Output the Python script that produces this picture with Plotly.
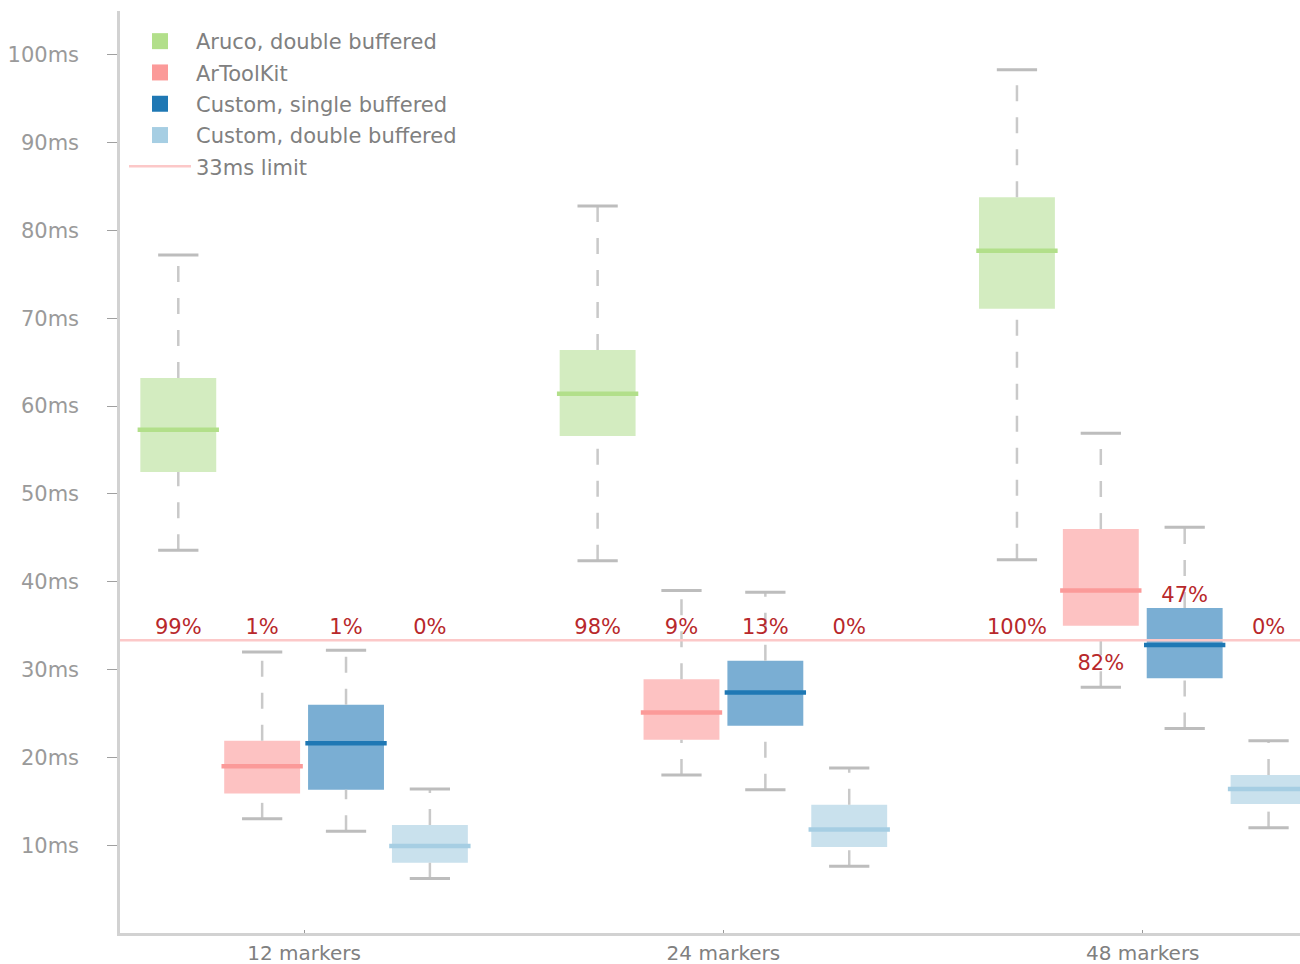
import plotly.graph_objects as go

# Marker-count scenarios (x categories)
groups = ["12 markers", "24 markers", "48 markers"]

series_names = ["Aruco, double buffered", "ArToolKit",
                "Custom, single buffered", "Custom, double buffered"]

# Frame-time statistics in ms, one list per series, ordered like `groups`
aruco_low = [43.6, 42.4, 42.5]
aruco_q1 = [52.5, 56.6, 71.1]
aruco_med = [57.3, 61.4, 77.7]
aruco_q3 = [63.2, 66.4, 83.8]
aruco_high = [77.2, 82.8, 98.3]

artk_low = [13.0, 18.0, 28.0]
artk_q1 = [15.9, 22.0, 35.0]
artk_med = [19.0, 25.1, 39.0]
artk_q3 = [21.9, 28.9, 46.0]
artk_high = [32.0, 39.0, 56.9]

single_low = [11.6, 16.3, 23.3]
single_q1 = [16.3, 23.6, 29.0]
single_med = [21.6, 27.4, 32.8]
single_q3 = [26.0, 31.0, 37.0]
single_high = [32.2, 38.8, 46.2]

double_low = [6.2, 7.6, 12.0]
double_q1 = [8.0, 9.8, 14.7]
double_med = [9.9, 11.8, 16.4]
double_q3 = [12.3, 14.6, 18.0]
double_high = [16.4, 18.8, 21.9]

# Share of frames slower than the limit, per series and group
aruco_over = [99, 98, 100]
artk_over = [1, 9, 82]
single_over = [1, 13, 47]
double_over = [0, 0, 0]

limit_ms = 33.33

y_ticks = [10, 20, 30, 40, 50, 60, 70, 80, 90, 100]
y_tick_text = ["10ms", "20ms", "30ms", "40ms", "50ms",
               "60ms", "70ms", "80ms", "90ms", "100ms"]

series = [
    dict(name=series_names[0], low=aruco_low, q1=aruco_q1, med=aruco_med,
         q3=aruco_q3, high=aruco_high, over=aruco_over,
         line="#b2df8a", fill="#d3ecc0"),
    dict(name=series_names[1], low=artk_low, q1=artk_q1, med=artk_med,
         q3=artk_q3, high=artk_high, over=artk_over,
         line="#fb9a99", fill="#fdc2c2"),
    dict(name=series_names[2], low=single_low, q1=single_q1, med=single_med,
         q3=single_q3, high=single_high, over=single_over,
         line="#1f78b4", fill="#7aaed3"),
    dict(name=series_names[3], low=double_low, q1=double_q1, med=double_med,
         q3=double_q3, high=double_high, over=double_over,
         line="#a6cee3", fill="#c9e1ed"),
]

FONT = "DejaVu Sans"
FS = 21
offsets = [-0.3, -0.1, 0.1, 0.3]
box_w = 0.181
med_half = 0.097
cap_half = 0.048
whisker_color = "#c9c9c9"
cap_color = "#bdbdbd"
label_color = "#b8282b"

fig = go.Figure()


def segs(xc, y0, y1, half=0.0):
    xs, ys = [], []
    for x, a, b in zip(xc, y0, y1):
        xs += [x - half, x + half, None] if half else [x, x, None]
        ys += [a, b, None]
    return xs, ys


label_x, label_y, label_t = [], [], []
for k, s in enumerate(series):
    xc = [g + offsets[k] for g in range(len(groups))]

    # dashed whiskers from the box edges out to the caps
    wx1, wy1 = segs(xc, s["q3"], s["high"])
    wx2, wy2 = segs(xc, s["low"], s["q1"])
    fig.add_trace(go.Scatter(x=wx1 + wx2, y=wy1 + wy2, mode="lines",
                             line=dict(color=whisker_color, width=2.5, dash="16px,16px"),
                             showlegend=False, hoverinfo="skip"))
    # whisker caps
    cx1, cy1 = segs(xc, s["high"], s["high"], cap_half)
    cx2, cy2 = segs(xc, s["low"], s["low"], cap_half)
    fig.add_trace(go.Scatter(x=cx1 + cx2, y=cy1 + cy2, mode="lines",
                             line=dict(color=cap_color, width=3),
                             showlegend=False, hoverinfo="skip"))
    # interquartile box
    fig.add_trace(go.Bar(x=xc, base=s["q1"],
                         y=[b - a for a, b in zip(s["q1"], s["q3"])],
                         width=box_w, marker=dict(color=s["fill"], line=dict(width=0)),
                         showlegend=False, hoverinfo="skip"))
    # median
    mx, my = segs(xc, s["med"], s["med"], med_half)
    fig.add_trace(go.Scatter(x=mx, y=my, mode="lines",
                             line=dict(color=s["line"], width=4.5),
                             showlegend=False, hoverinfo="skip"))
    # legend entry
    fig.add_trace(go.Scatter(x=[None], y=[None], mode="markers", name=s["name"],
                             legendgroup=s["name"],
                             marker=dict(symbol="square", size=17, color=s["line"])))

    for g, (x, pct) in enumerate(zip(xc, s["over"])):
        y = 34.7
        # move labels that would sit on top of a box
        if s["q1"][g] < 36.5 < s["q3"][g]:
            y = 30.5 if s["q1"][g] > limit_ms else s["q3"][g] + 1.3
        label_x.append(x)
        label_y.append(y)
        label_t.append(f"{pct}%")

# 33 ms frame budget line
fig.add_trace(go.Scatter(x=[-0.5, 2.5], y=[limit_ms, limit_ms], mode="lines",
                         name="33ms limit", legendgroup="limit",
                         line=dict(color="#fcc8c8", width=2.5), hoverinfo="skip"))

fig.add_trace(go.Scatter(x=label_x, y=label_y, mode="text", text=label_t,
                         textfont=dict(family=FONT, size=FS, color=label_color),
                         showlegend=False, hoverinfo="skip"))

fig.update_layout(
    width=1300, height=964,
    margin=dict(l=120, r=0, t=11, b=31),
    plot_bgcolor="white", paper_bgcolor="white",
    font=dict(family=FONT, size=FS, color="#8a8a8a"),
    barmode="overlay",
    showlegend=True,
    legend=dict(x=(160 - 36 - 120) / 1180, y=1 - 10 / 922,
                xanchor="left", yanchor="top",
                xref="paper", yref="paper",
                bgcolor="rgba(0,0,0,0)", tracegroupgap=1, itemwidth=62,
                font=dict(family=FONT, size=FS, color="#808080")),
    xaxis=dict(range=[-0.439, 2.375], tickmode="array", tickvals=[0, 1, 2],
               ticktext=groups, showgrid=False, zeroline=False,
               showline=True, linecolor="#d2d2d2", linewidth=2.5,
               ticks="inside", ticklen=3, tickcolor="#999999",
               automargin=False,
               tickfont=dict(family=FONT, size=20, color="#808080")),
    yaxis=dict(range=[0, 105], tickmode="array", tickvals=y_ticks,
               ticktext=y_tick_text, showgrid=False, zeroline=False,
               showline=True, linecolor="#d2d2d2", linewidth=2.5,
               ticks="outside", ticklen=10, tickcolor="#a0a0a0",
               ticklabelstandoff=24, automargin=False,
               tickfont=dict(family=FONT, size=FS, color="#9a9a9a")),
)

fig.write_html("out.html")
